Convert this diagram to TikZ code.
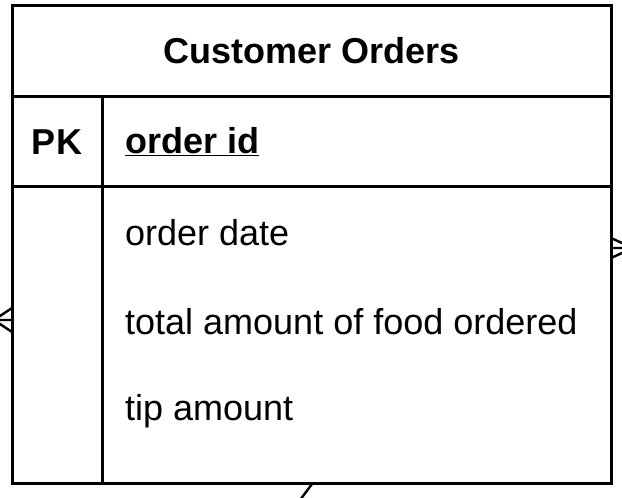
\documentclass[tikz,border=0pt]{standalone}
\usepackage{fontspec}
\setmainfont{Liberation Sans}
\begin{document}
\begin{tikzpicture}[x=1pt,y=-1pt,
  edge/.style={line width=3pt, black},
  thin edge/.style={line width=2.4pt, black},
  title/.style={font=\fontsize{36}{40}\selectfont\bfseries, inner sep=0pt},
  keytext/.style={font=\fontsize{36}{40}\selectfont\bfseries, inner sep=0pt},
  attr/.style={font=\fontsize{36}{40}\selectfont, inner sep=0pt, anchor=west}]
\useasboundingbox (0,0) rectangle (622,498);
\clip (0,0) rectangle (622,498);
\fill[white] (0,0) rectangle (622,498);
% table frame
\coordinate (tl) at (12,5);
\coordinate (br) at (611,483);
\draw[edge] (tl) rectangle (br);
\draw[edge] (12,96) -- (611,96);
\draw[edge] (12,186) -- (611,186);
\draw[edge] (102,96) -- (102,483);
% texts
\node[title] (ttl) at (311.5,51) {Customer Orders};
\node[keytext] (pk) at (57,142) {PK};
\node[keytext, anchor=west] (oid) at (125,142) {\underline{order id}};
\node[attr] (odate) at (125,233) {order date};
\node[attr] (total) at (125,322) {total amount of food ordered};
\node[attr] (tip) at (125,411) {tip amount};
% connector fragments (crow's feet)
\coordinate (lt) at (-6,320);
\draw[thin edge] (lt) -- (12,308) (lt) -- (12,320) (lt) -- (12,332);
\coordinate (rt) at (633,248);
\draw[thin edge] (rt) -- (611,238) (rt) -- (611,248) (rt) -- (611,258);
\coordinate (bt) at (312,484);
\coordinate (bb) at (300,500);
\draw[thin edge] (bt) -- (bb);
\end{tikzpicture}
\end{document}
